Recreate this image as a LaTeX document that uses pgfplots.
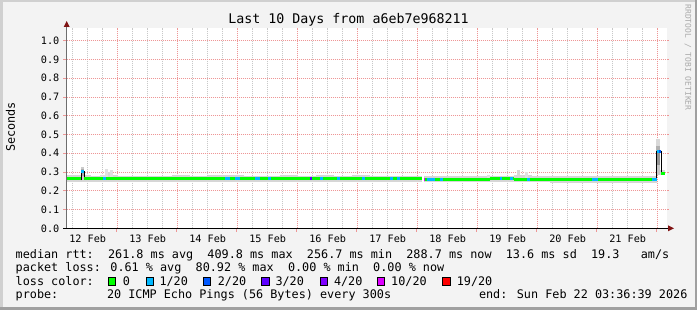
\documentclass[border=0pt]{standalone}
\usepackage{pgfplots}
\pgfplotsset{compat=1.18}
\usepackage{fontspec}
\setmainfont{DejaVu Sans Mono}
\definecolor{bgc}{RGB}{243,243,243}
\definecolor{mgrid}{RGB}{238,150,150}
\definecolor{mingrid}{RGB}{200,200,200}
\definecolor{arrowred}{RGB}{128,20,20}
\definecolor{loss0}{RGB}{0,255,0}
\definecolor{loss1}{RGB}{0,184,255}
\definecolor{loss2}{RGB}{0,89,255}
\definecolor{loss3}{RGB}{94,0,255}
\definecolor{loss4}{RGB}{126,0,255}
\definecolor{loss10}{RGB}{221,0,255}
\definecolor{loss19}{RGB}{255,0,0}
\definecolor{smoke}{RGB}{214,214,214}
\definecolor{smokel}{RGB}{224,224,224}
\definecolor{wm}{RGB}{170,170,170}
\definecolor{axgray}{RGB}{110,110,110}
\definecolor{brdlight}{RGB}{208,208,208}
\definecolor{brddark}{RGB}{160,160,160}
\newcommand\lgd[3]{\node[anchor=base west, inner sep=0pt, font=\fontsize{11.8}{14}\selectfont] at (#1,#2) {#3};}
\newcommand\lbox[2]{\filldraw[fill=#2, draw=black, line width=0.8pt] (#1,24.8) rectangle ({#1+7.5},32.3);}
\tikzset{gridline/.style={dash pattern=on 1pt off 1pt, line width=0.9pt}}
\begin{document}
\begin{tikzpicture}
\begin{scope}[x=1pt,y=1pt]
\fill[bgc] (0,0) rectangle (697,310);
\fill[brdlight] (0,307.5) rectangle (697,310);
\fill[brdlight] (0,0) rectangle (2.5,310);
\fill[brddark] (694.5,0) rectangle (697,310);
\fill[brddark] (0,0) rectangle (697,2.5);
\fill[white] (66.7,81.7) rectangle (666.7,282.4);
\end{scope}
\begin{axis}[
  at={(66.7pt,81.7pt)}, anchor=south west,
  scale only axis, width=600pt, height=200.7pt,
  xmin=12.15, xmax=22.15, ymin=0, ymax=1.07,
  axis line style={draw=none},
  major tick length=0pt, minor tick length=0pt,
  tick label style={font=\fontsize{10.2}{12}\selectfont},
  xtick={12.5,13.5,14.5,15.5,16.5,17.5,18.5,19.5,20.5,21.5},
  xticklabels={12 Feb,13 Feb,14 Feb,15 Feb,16 Feb,17 Feb,18 Feb,19 Feb,20 Feb,21 Feb},
  xticklabel style={anchor=north, inner sep=0pt, yshift=-6pt},
  ytick={0,0.1,0.2,0.3,0.4,0.5,0.6,0.7,0.8,0.9,1.0},
  yticklabels={0.0,0.1,0.2,0.3,0.4,0.5,0.6,0.7,0.8,0.9,1.0},
  yticklabel style={anchor=east, inner sep=0pt, xshift=-7.2pt},
  clip=true,
]
% grid (6-hour minor, daily major, 0.1 s horizontal)
\pgfplotsinvokeforeach{12.25,12.5,12.75,13.25,13.5,13.75,14.25,14.5,14.75,15.25,15.5,15.75,16.25,16.5,16.75,17.25,17.5,17.75,18.25,18.5,18.75,19.25,19.5,19.75,20.25,20.5,20.75,21.25,21.5,21.75}{
  \draw[mingrid, gridline] (axis cs:#1,0) -- (axis cs:#1,1.07);
}
\pgfplotsinvokeforeach{13,14,15,16,17,18,19,20,21,22}{
  \draw[mgrid, gridline] (axis cs:#1,0) -- (axis cs:#1,1.07);
}
\pgfplotsinvokeforeach{0.1,0.2,0.3,0.4,0.5,0.6,0.7,0.8,0.9,1.0}{
  \draw[mgrid, gridline] (axis cs:12.15,#1) -- (axis cs:22.15,#1);
}
% smoke: base band
\addplot[smoke, line width=6.5pt, jump mark left, unbounded coords=jump, forget plot] table[row sep=\\] {
x y\\
12.15 0.2645\\ 12.30 0.2660\\ 12.55 0.2635\\ 12.80 0.2650\\ 13.00 0.2640\\ 13.30 0.2625\\
13.60 0.2640\\ 13.90 0.2655\\ 14.20 0.2630\\ 14.50 0.2645\\ 14.80 0.2650\\ 15.10 0.2625\\
15.40 0.2640\\ 15.70 0.2655\\ 16.00 0.2630\\ 16.30 0.2645\\ 16.60 0.2630\\ 16.90 0.2650\\
17.20 0.2625\\ 17.50 0.2640\\ 17.80 0.2630\\ 18.067 0.2630\\ 18.08 nan\\ 18.105 0.2620\\
18.40 0.2625\\ 18.70 0.2640\\ 19.00 0.2635\\ 19.30 0.2625\\ 19.60 0.2645\\ 19.90 0.2620\\
20.20 0.2605\\ 20.50 0.2595\\ 20.80 0.2610\\ 21.10 0.2595\\ 21.40 0.2605\\ 21.70 0.2595\\
21.98 0.2595\\
};
% smoke: spikes
\addplot[fill=smokel, draw=none, forget plot] coordinates {(12.70,0.27) (12.79,0.27) (12.79,0.283) (12.70,0.283)};
\addplot[fill=smokel, draw=none, forget plot] coordinates {(12.79,0.27) (12.83,0.27) (12.83,0.318) (12.79,0.318)};
\addplot[fill=smoke, draw=none, forget plot] coordinates {(12.83,0.27) (12.87,0.27) (12.87,0.300) (12.83,0.300)};
\addplot[fill=smokel, draw=none, forget plot] coordinates {(12.87,0.27) (12.92,0.27) (12.92,0.312) (12.87,0.312)};
\addplot[fill=smokel, draw=none, forget plot] coordinates {(19.15,0.27) (19.20,0.27) (19.20,0.286) (19.15,0.286)};
\addplot[fill=smoke, draw=none, forget plot] coordinates {(19.66,0.27) (19.71,0.27) (19.71,0.312) (19.66,0.312)};
\addplot[fill=smokel, draw=none, forget plot] coordinates {(19.79,0.27) (19.83,0.27) (19.83,0.302) (19.79,0.302)};
\addplot[fill=gray!40, draw=none, forget plot] coordinates {(12.385,0.255) (12.445,0.255) (12.445,0.326) (12.385,0.326)};
\addplot[fill=gray!65, draw=none, forget plot] coordinates {(12.385,0.28) (12.445,0.28) (12.445,0.315) (12.385,0.315)};
\addplot[fill=gray!30, draw=none, forget plot] coordinates {(21.975,0.44) (22.04,0.44) (22.04,0.474) (21.975,0.474)};
\addplot[fill=gray!60, draw=none, forget plot] coordinates {(21.975,0.40) (22.04,0.40) (22.04,0.44) (21.975,0.44)};
\addplot[fill=gray!85, draw=none, forget plot] coordinates {(21.975,0.34) (22.04,0.34) (22.04,0.40) (21.975,0.40)};
\addplot[fill=gray!45, draw=none, forget plot] coordinates {(21.975,0.283) (22.04,0.283) (22.04,0.34) (21.975,0.34)};
\addplot[fill=smoke, draw=none, forget plot] coordinates {(22.04,0.283) (22.122,0.283) (22.122,0.310) (22.04,0.310)};
% black step lines
\addplot[black, line width=1pt, unbounded coords=jump, forget plot] table[row sep=\\] {
x y\\
12.39 0.257\\ 12.39 0.305\\ 12.395 nan\\ 12.44 0.305\\ 12.44 0.257\\ 12.445 nan\\
21.983 0.257\\ 21.983 0.414\\ 21.99 nan\\ 22.058 0.414\\ 22.058 0.293\\
};
% median, loss 0
\addplot[loss0, line width=3pt, jump mark left, unbounded coords=jump, forget plot] table[row sep=\\] {
x y\\
12.15 0.264\\ 12.39 0.305\\ 12.44 0.264\\ 13.60 0.2635\\ 15.00 0.263\\ 16.20 0.2635\\
16.80 0.263\\ 18.067 0.263\\ 18.08 nan\\ 18.105 0.2615\\ 18.40 0.2625\\ 19.20 0.263\\
19.60 0.262\\ 20.00 0.2595\\ 20.40 0.2585\\ 20.60 0.2595\\ 21.20 0.2585\\ 21.50 0.259\\
21.983 0.410\\ 22.058 0.293\\ 22.122 0.293\\
};
% loss 1/20 segments
\addplot[loss1, line width=3pt, unbounded coords=jump, forget plot] table[row sep=\\] {
x y\\
12.39 0.305\\ 12.44 0.305\\ 12.45 nan\\
12.757 0.264\\ 12.81 0.264\\ 12.82 nan\\
14.79 0.2635\\ 14.87 0.2635\\ 14.88 nan\\
14.955 0.263\\ 15.04 0.263\\ 15.05 nan\\
15.29 0.263\\ 15.37 0.263\\ 15.38 nan\\
15.51 0.263\\ 15.56 0.263\\ 15.57 nan\\
16.37 0.2635\\ 16.42 0.2635\\ 16.43 nan\\
16.66 0.2635\\ 16.71 0.2635\\ 16.72 nan\\
17.07 0.263\\ 17.12 0.263\\ 17.13 nan\\
17.54 0.263\\ 17.59 0.263\\ 17.60 nan\\
17.66 0.263\\ 17.71 0.263\\ 17.72 nan\\
18.16 0.2615\\ 18.29 0.2615\\ 18.30 nan\\
18.37 0.2615\\ 18.42 0.2615\\ 18.43 nan\\
19.37 0.263\\ 19.41 0.263\\ 19.42 nan\\
19.54 0.263\\ 19.59 0.263\\ 19.60 nan\\
19.82 0.262\\ 19.87 0.262\\ 19.88 nan\\
20.91 0.2595\\ 21.01 0.2595\\ 21.02 nan\\
21.91 0.259\\ 21.983 0.259\\ 21.984 nan\\
21.983 0.410\\ 22.02 0.410\\
};
\addplot[loss2, line width=3pt, forget plot] coordinates {(22.02,0.408) (22.058,0.408)};
\addplot[loss3, line width=3pt, forget plot] coordinates {(16.21,0.2635) (16.24,0.2635)};
\addplot[loss10, line width=3pt, forget plot] coordinates {(18.105,0.2615) (18.125,0.2615)};
\end{axis}
\begin{scope}[x=1pt,y=1pt]
% axis lines and arrows
\draw[axgray, line width=1.5pt] (66.7,81.7) -- (66.7,283);
\fill[arrowred] (63.7,283) -- (69.7,283) -- (66.7,289) -- cycle;
\draw[black, line width=1pt] (63,81.7) -- (668,81.7);
\fill[arrowred] (668,78.7) -- (668,84.7) -- (674,81.7) -- cycle;
\draw[black, line width=0.8pt] (63,81.7) -- (66,81.7);
\foreach \k in {1,...,10} {
  \draw[mgrid, line width=0.9pt] (63,{81.7+\k*18.76}) -- (66,{81.7+\k*18.76});
  \draw[mgrid, line width=0.9pt] (667,{81.7+\k*18.76}) -- (669,{81.7+\k*18.76});
}
\foreach \k in {1,...,10} {
  \draw[mgrid, line width=0.9pt] ({56.7+\k*60},81.2) -- ({56.7+\k*60},78.2);
}
% title and labels
\node[anchor=base, inner sep=0pt, font=\fontsize{13.3}{16}\selectfont] at (348.5,286) {Last 10 Days from a6eb7e968211};
\node[inner sep=0pt, rotate=90, font=\fontsize{11.8}{14}\selectfont] at (10.5,183) {Seconds};
\node[inner sep=0pt, rotate=-90, text=wm, font=\fontsize{8}{10}\selectfont] at (688,252.5) {RRDTOOL / TOBI OETIKER};
% legend
\lgd{15.5}{51.7}{median rtt:~~261.8 ms avg~~409.8 ms max~~256.7 ms min~~288.7 ms now~~13.6 ms sd~~19.3~~~am/s}
\lgd{15.5}{38.3}{packet loss: 0.61 \% avg~~80.92 \% max~~0.00 \% min~~0.00 \% now}
\lgd{15.5}{24.3}{loss color:}
\lbox{108.3}{loss0}\lgd{122.6}{24.3}{0}
\lbox{146}{loss1}\lgd{159.3}{24.3}{1/20}
\lbox{203.3}{loss2}\lgd{217.6}{24.3}{2/20}
\lbox{261.7}{loss3}\lgd{275.3}{24.3}{3/20}
\lbox{320}{loss4}\lgd{333.8}{24.3}{4/20}
\lbox{377.3}{loss10}\lgd{391}{24.3}{10/20}
\lbox{442.7}{loss19}\lgd{456.6}{24.3}{19/20}
\lgd{15.5}{11}{probe:}
\lgd{106.8}{11}{20 ICMP Echo Pings (56 Bytes) every 300s}
\lgd{478.8}{11}{end: Sun Feb 22 03:36:39 2026}
\pgfresetboundingbox
\useasboundingbox (0,0) rectangle (697,310);
\end{scope}
\end{tikzpicture}
\end{document}
